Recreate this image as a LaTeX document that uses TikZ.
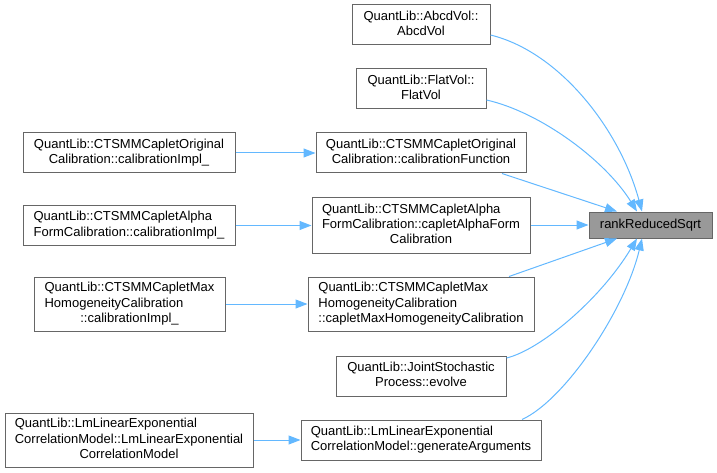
\documentclass[tikz,border=0pt]{standalone}
\usepackage{fontspec}
\setmainfont{Liberation Sans}
\usetikzlibrary{arrows.meta}
\definecolor{edgeblue}{HTML}{63B8FF}
\definecolor{boxline}{HTML}{666666}
\definecolor{rootfill}{HTML}{999999}
\newcommand{\lbl}[2]{\begin{tabular}{@{}l@{}}#1\\\multicolumn{1}{@{}c@{}}{#2}\end{tabular}}
\tikzset{
  fn/.style={draw=boxline, fill=white, line width=1pt, inner sep=0pt, align=center,
    font=\fontsize{13}{15.3}\selectfont},
  rootbox/.style={fn, fill=rootfill},
  call/.style={draw=edgeblue, line width=1pt, -{Triangle[length=12pt,width=9pt]}}
}
\begin{document}
\begin{tikzpicture}[x=1pt,y=-1pt]
\useasboundingbox (0,0) rectangle (717,473);
% middle column
\node[fn, minimum width=138pt, minimum height=40pt] (abcd) at (421,25) {\lbl{QuantLib::AbcdVol::}{AbcdVol}};
\node[fn, minimum width=130pt, minimum height=40pt] (flat) at (421,89) {\lbl{QuantLib::FlatVol::}{FlatVol}};
\node[fn, minimum width=210pt, minimum height=40pt] (origF) at (421,153) {\lbl{QuantLib::CTSMMCapletOriginal}{Calibration::calibrationFunction}};
\node[fn, minimum width=218pt, minimum height=55pt] (alphaF) at (421,225.5) {\lbl{QuantLib::CTSMMCapletAlpha\\FormCalibration::capletAlphaForm}{Calibration}};
\node[fn, minimum width=226pt, minimum height=54pt] (maxF) at (421,304) {\lbl{QuantLib::CTSMMCapletMax\\HomogeneityCalibration}{::capletMaxHomogeneityCalibration}};
\node[fn, minimum width=170pt, minimum height=40pt] (joint) at (421,376) {\lbl{QuantLib::JointStochastic}{Process::evolve}};
\node[fn, minimum width=240pt, minimum height=40pt] (lmGen) at (421,440) {\lbl{QuantLib::LmLinearExponential}{CorrelationModel::generateArguments}};
% root
\node[rootbox, minimum width=123pt, minimum height=26pt] (root) at (650.5,225) {rankReducedSqrt};
% left column
\node[fn, minimum width=212pt, minimum height=40pt] (origI) at (129,153) {\lbl{QuantLib::CTSMMCapletOriginal}{Calibration::calibrationImpl\_}};
\node[fn, minimum width=212pt, minimum height=40pt] (alphaI) at (129,225.5) {\lbl{QuantLib::CTSMMCapletAlpha}{FormCalibration::calibrationImpl\_}};
\node[fn, minimum width=191pt, minimum height=54pt] (maxI) at (129.5,304) {\lbl{QuantLib::CTSMMCapletMax\\HomogeneityCalibration}{::calibrationImpl\_}};
\node[fn, minimum width=248pt, minimum height=54pt] (lmI) at (129,440) {\lbl{QuantLib::LmLinearExponential\\CorrelationModel::LmLinearExponential}{CorrelationModel}};
% edges to root
\draw[call] ([yshift=-10pt]abcd.east) .. controls (560,52) and (620,130) .. ([xshift=-8.5pt]root.north);
\draw[call] ([yshift=-11pt]flat.east) .. controls (540,112) and (605,160) .. ([xshift=-13.5pt]root.north);
\draw[call] ([xshift=81pt]origF.south) -- ([xshift=-33.5pt]root.north);
\draw[call] (alphaF.east |- root.west) -- (root.west);
\draw[call] ([xshift=88pt]maxF.north) -- ([xshift=-33.5pt]root.south);
\draw[call] ([yshift=18pt]joint.east) .. controls (540,350) and (600,300) .. ([xshift=-13.5pt]root.south);
\draw[call] ([xshift=101pt]lmGen.north) .. controls (565,400) and (625,310) .. ([xshift=-8.5pt]root.south);
% edges from left column
\draw[call] (origI.east) -- (origF.west);
\draw[call] (alphaI.east) -- (alphaF.west |- alphaI.east);
\draw[call] (maxI.east) -- (maxF.west);
\draw[call] (lmI.east) -- (lmGen.west);
\end{tikzpicture}
\end{document}
